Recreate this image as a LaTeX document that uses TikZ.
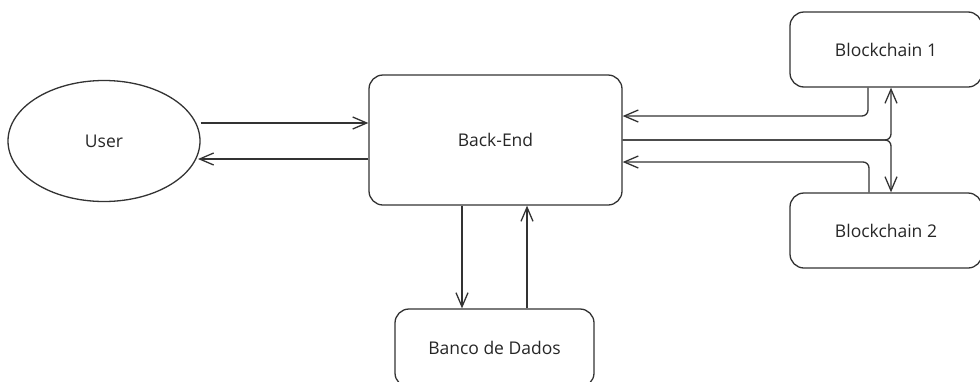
\documentclass[tikz,border=0pt]{standalone}
\usepackage{fontspec}
\setmainfont{Open Sans}
\usetikzlibrary{arrows.meta,shapes.geometric}
\begin{document}
\begin{tikzpicture}[x=1pt,y=-1pt,
  every node/.style={font=\fontsize{17.5}{20}\selectfont, text=black!85},
  box/.style={draw=black!80, line width=1.3pt, rounded corners=14pt, inner sep=0pt},
  link/.style={draw=black!80, line width=1.3pt, -{Straight Barb[length=14pt,width=12pt,line width=1.3pt]}}
]
  \useasboundingbox (0,0) rectangle (980,381);
  \clip (0,0) rectangle (980,381);

  % components
  \node[draw=black!80, line width=1.3pt, ellipse, minimum width=192pt, minimum height=121pt] (user) at (104,141) {User};
  \node[box, minimum width=253pt, minimum height=130pt] (be) at (495.5,140) {Back-End};
  \node[box, minimum width=192pt, minimum height=75pt] (bc1) at (886,49.5) {Blockchain 1};
  \node[box, minimum width=192pt, minimum height=75pt] (bc2) at (886,230.5) {Blockchain 2};
  \node[box, minimum width=199pt, minimum height=78pt] (db) at (494.5,348) {Banco de Dados};

  % user <-> back-end
  \draw[link] (user.east |- 0,123) -- (be.west |- 0,123);
  \draw[link] (be.west |- 0,159) -- (198,159);

  % back-end <-> database
  \draw[link] (be.south -| 462,0) -- (db.north -| 462,0);
  \draw[link] (db.north -| 527,0) -- (be.south -| 527,0);

  % blockchains -> back-end
  \draw[link, rounded corners=6pt] (bc1.south -| 868,0) -- (868,116) -- (be.east |- 0,116);
  \draw[link, rounded corners=6pt] (bc2.north -| 869,0) -- (869,162) -- (be.east |- 0,162);

  % back-end -> both blockchains
  \coordinate (split) at (891,140);
  \draw[link, rounded corners=6pt] (be.east) -- (split) -- (bc1.south -| split);
  \draw[link, rounded corners=6pt] (be.east) -- (split) -- (bc2.north -| split);
\end{tikzpicture}
\end{document}
